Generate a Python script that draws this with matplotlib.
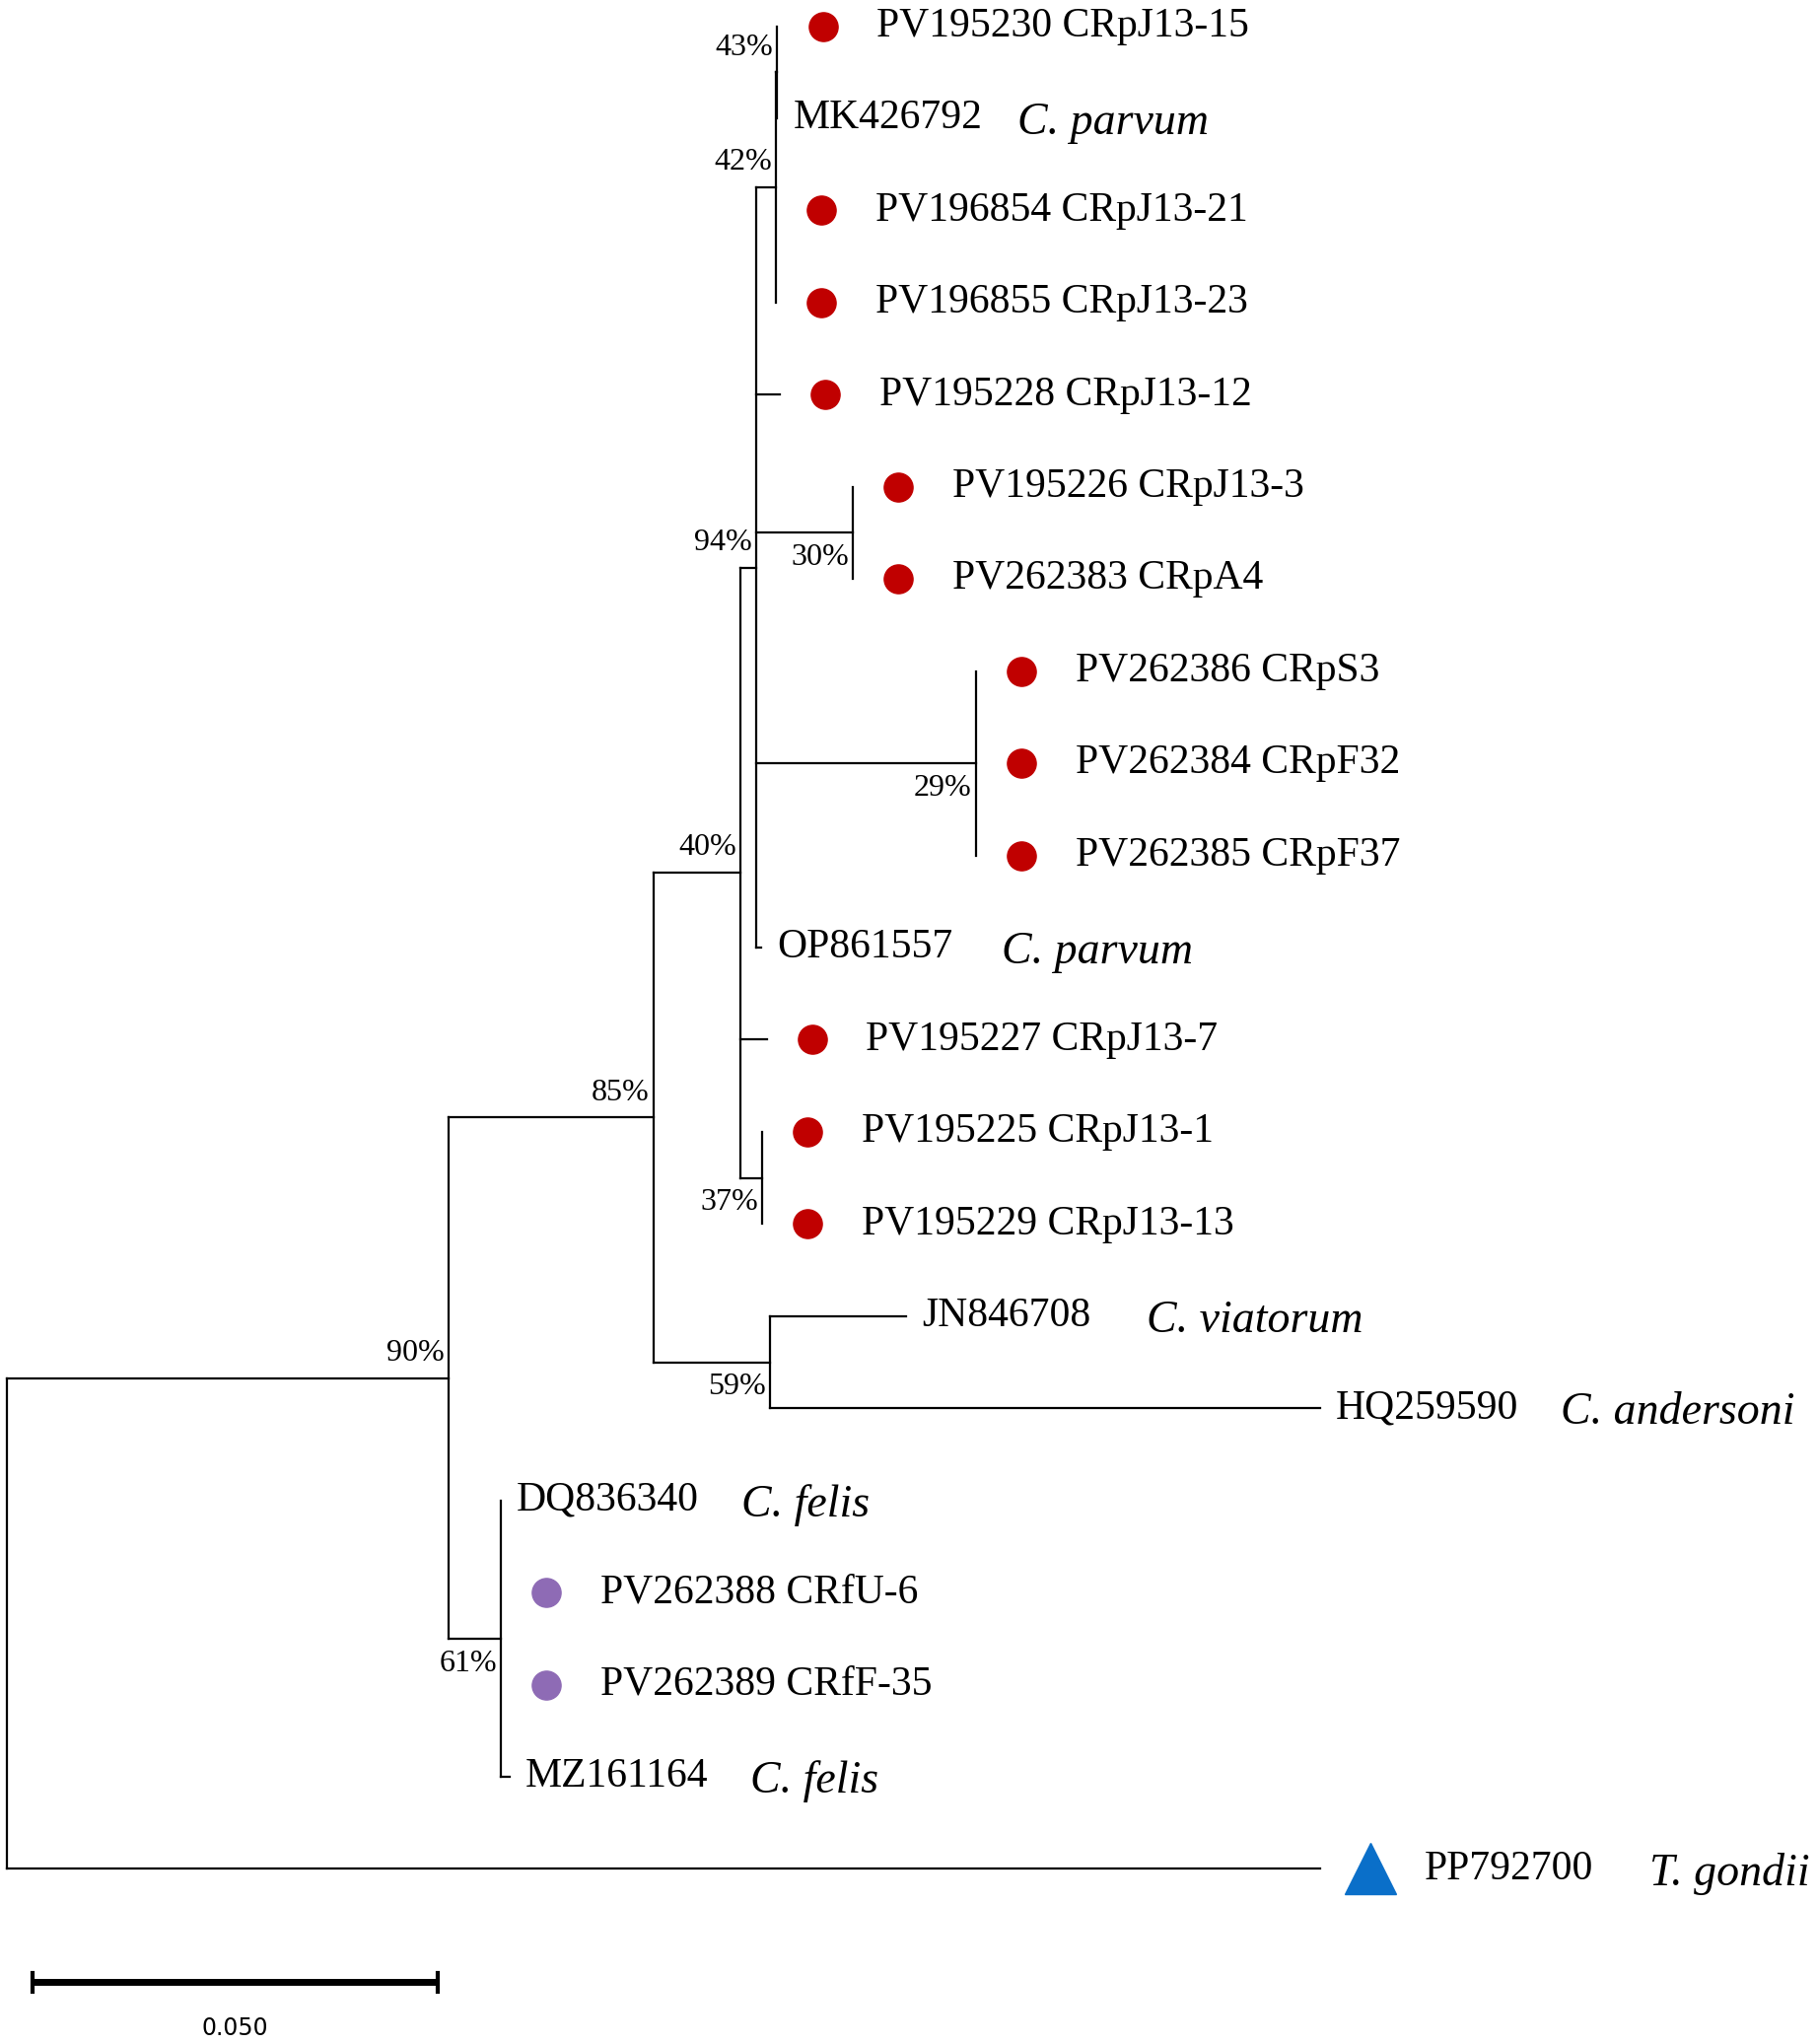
import matplotlib
matplotlib.use("Agg")
import matplotlib.pyplot as plt

# ---------------- data ----------------
leaf_acc = ["PV195230", "MK426792", "PV196854", "PV196855", "PV195228", "PV195226",
            "PV262383", "PV262386", "PV262384", "PV262385", "OP861557", "PV195227",
            "PV195225", "PV195229", "JN846708", "HQ259590", "DQ836340", "PV262388",
            "PV262389", "MZ161164", "PP792700"]
leaf_name = ["CRpJ13-15", "C. parvum", "CRpJ13-21", "CRpJ13-23", "CRpJ13-12", "CRpJ13-3",
             "CRpA4", "CRpS3", "CRpF32", "CRpF37", "C. parvum", "CRpJ13-7",
             "CRpJ13-1", "CRpJ13-13", "C. viatorum", "C. andersoni", "C. felis", "CRfU-6",
             "CRfF-35", "C. felis", "T. gondii"]
leaf_mark = ["red", None, "red", "red", "red", "red", "red", "red", "red", "red", None, "red",
             "red", "red", None, None, None, "purple", "purple", None, "tri"]

# tree: (name, branch_length, children or leaf index)
tree = ("root", 0.0, [
    ("A", 0.0545, [
        ("B", 0.0253, [
            ("D", 0.0108, [
                ("E", 0.0019, [
                    ("G", 0.0024, [
                        ("J", 0.0002, [("", 0.0, 0), ("", 0.0, 1)]),
                        ("", 0.0, 2), ("", 0.0, 3)]),
                    ("", 0.0029, 4),
                    ("H", 0.0119, [("", 0.0, 5), ("", 0.0, 6)]),
                    ("I", 0.0271, [("", 0.0, 7), ("", 0.0, 8), ("", 0.0, 9)]),
                    ("", 0.0006, 10)]),
                ("", 0.0032, 11),
                ("F", 0.0026, [("", 0.0, 12), ("", 0.0, 13)])]),
            ("C", 0.0144, [("", 0.0168, 14), ("", 0.0679, 15)])]),
        ("K", 0.0065, [("", 0.0, 16), ("", 0.0, 17), ("", 0.0, 18), ("", 0.0011, 19)])]),
    ("", 0.1621, 20)])

support = {"J": "43%", "G": "42%", "E": "94%", "H": "30%", "I": "29%", "D": "40%",
           "B": "85%", "C": "59%", "F": "37%", "A": "90%", "K": "61%"}
support_pos = {"J": "above", "G": "above", "E": "above", "H": "below", "I": "below",
               "D": "above", "B": "above", "C": "below", "F": "below", "A": "above",
               "K": "below"}
scale_len = 0.050

# ---------------- drawing ----------------
PX = 6200.0  # px per unit (display reference)
fig = plt.figure(figsize=(18.43, 20.73), dpi=100)
ax = fig.add_axes([0, 0, 1, 1])
ax.set_xlim(-5 / PX, 1385 / PX)
ax.set_ylim(21.9, -0.284)
ax.axis("off")
lw = 1.6
serif = "Liberation Serif"
dx = 1 / PX
FS = 30
FSI = 33

def draw(node, x0):
    name, bl, ch = node
    x = x0 + bl
    if isinstance(ch, int):
        y = ch
        ax.plot([x0, x], [y, y], color="black", lw=lw)
        m = leaf_mark[ch]
        if m in ("red", "purple"):
            col = "#c00000" if m == "red" else "#8e6bb5"
            ax.plot(x + 35 * dx, y, "o", ms=21, color=col, mec=col)
            tx = x + 76 * dx
            ax.text(tx, y, f"{leaf_acc[ch]} {leaf_name[ch]}", fontsize=FS, family=serif,
                    va="center", ha="left")
        else:
            if m == "tri":
                ax.plot(x + 38 * dx, y, "^", ms=38, color="#0a6fc9")
                tx = x + 80 * dx
            else:
                tx = x + 12 * dx
            ax.text(tx, y, leaf_acc[ch], fontsize=FS, family=serif, va="center", ha="left")
            ax.text(tx + 172 * dx, y + 0.05, leaf_name[ch], fontsize=FSI, family=serif,
                    style="italic", va="center", ha="left")
        return y
    ys = [draw(c, x) for c in ch]
    y = (min(ys) + max(ys)) / 2
    ax.plot([x, x], [min(ys), max(ys)], color="black", lw=lw)
    if bl > 0:
        ax.plot([x0, x], [y, y], color="black", lw=lw)
    if name in support:
        off = -0.27 if support_pos[name] == "above" else 0.27
        ax.text(x - 3 * dx, y + off, support[name], fontsize=23, family=serif,
                ha="right", va="center")
    return y

draw(tree, 0.0)

# scale bar
sy = 21.23
sx0 = 20 / PX
ax.plot([sx0, sx0 + scale_len], [sy, sy], color="black", lw=5, solid_capstyle="butt")
for xx in (sx0, sx0 + scale_len):
    ax.plot([xx, xx], [sy - 0.1, sy + 0.1], color="black", lw=3)
ax.text(sx0 + scale_len / 2, sy + 0.5, f"{scale_len:.3f}", fontsize=17,
        family="DejaVu Sans", ha="center", va="center")

fig.savefig("out.png", dpi=100)
